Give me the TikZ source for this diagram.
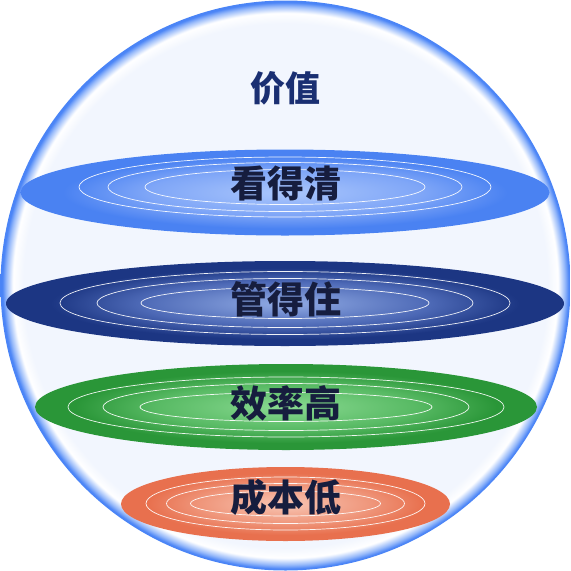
\documentclass[tikz,border=0pt]{standalone}
\usepackage{fontspec}
\newfontfamily\cjk{Noto Sans CJK SC}
\definecolor{bg}{HTML}{F2F6FE}
\definecolor{rim}{HTML}{4A84F6}
\definecolor{rimmid}{HTML}{96B9FA}
\definecolor{titlec}{HTML}{1A2F72}
\definecolor{labelc}{HTML}{161D3E}
\definecolor{eAedge}{HTML}{4A82F2}
\definecolor{eAmid}{HTML}{7FA6F7}
\definecolor{eActr}{HTML}{AAC6FC}
\definecolor{eBedge}{HTML}{1C3683}
\definecolor{eBmid}{HTML}{4D69B6}
\definecolor{eBctr}{HTML}{92ACE5}
\definecolor{eCedge}{HTML}{2A9638}
\definecolor{eCmid}{HTML}{58BA64}
\definecolor{eCctr}{HTML}{8ADA92}
\definecolor{eDedge}{HTML}{E8704E}
\definecolor{eDmid}{HTML}{EF967B}
\definecolor{eDctr}{HTML}{F8C6B4}
\pgfdeclareradialshading{sphereshade}{\pgfpoint{0bp}{0bp}}{%
  color(0bp)=(bg); color(23.0bp)=(bg); color(23.9bp)=(white);
  color(24.5bp)=(rimmid); color(24.85bp)=(rim); color(50bp)=(rim)}
\pgfdeclareradialshading{discA}{\pgfpoint{0bp}{0bp}}{%
  color(0bp)=(eActr); color(13bp)=(eAmid); color(21bp)=(eAedge); color(50bp)=(eAedge)}
\pgfdeclareradialshading{discB}{\pgfpoint{0bp}{0bp}}{%
  color(0bp)=(eBctr); color(13bp)=(eBmid); color(21bp)=(eBedge); color(50bp)=(eBedge)}
\pgfdeclareradialshading{discC}{\pgfpoint{0bp}{0bp}}{%
  color(0bp)=(eCctr); color(13bp)=(eCmid); color(21bp)=(eCedge); color(50bp)=(eCedge)}
\pgfdeclareradialshading{discD}{\pgfpoint{0bp}{0bp}}{%
  color(0bp)=(eDctr); color(13bp)=(eDmid); color(21bp)=(eDedge); color(50bp)=(eDedge)}
\tikzset{
  ringline/.style={draw=white, line width=0.7pt, opacity=0.92},
  disclabel/.style={text=labelc, font=\cjk\bfseries\fontsize{37}{37}\selectfont, inner sep=0pt},
  titlelabel/.style={text=titlec, font=\cjk\bfseries\fontsize{35}{35}\selectfont, inner sep=0pt}
}
\begin{document}
\begin{tikzpicture}[x=1pt,y=-1pt]
\useasboundingbox (0,0) rectangle (571,571);
% sphere
\shade[shading=sphereshade] (285.5,285.5) circle (285);
\node[titlelabel] (title) at (285.5,88.5) {价值};
% disc 1
\shade[shading=discA] (285,192.5) ellipse (264.5 and 43);
\draw[ringline] (285,187) ellipse (206 and 30);
\draw[ringline] (285,187) ellipse (177 and 24.5);
\draw[ringline] (285,187) ellipse (140 and 17.5);
\node[disclabel] (see) at (285.5,183.5) {看得清};
% disc 2
\shade[shading=discB] (285,303.5) ellipse (279 and 42.5);
\draw[ringline] (285,303) ellipse (225 and 31.5);
\draw[ringline] (285,303) ellipse (188 and 24.5);
\draw[ringline] (285,303) ellipse (144 and 15.5);
\node[disclabel] (manage) at (285.5,299) {管得住};
% disc 3
\shade[shading=discC] (286,407) ellipse (251 and 43);
\draw[ringline] (286,407) ellipse (218 and 30);
\draw[ringline] (286,407) ellipse (183 and 23.5);
\draw[ringline] (286,407) ellipse (146 and 14.5);
\node[disclabel] (eff) at (285.5,403.5) {效率高};
% disc 4
\shade[shading=discD] (285.5,504) ellipse (164.5 and 37);
\draw[ringline] (285.5,503.5) ellipse (139.5 and 26.5);
\draw[ringline] (285.5,503.5) ellipse (119 and 20);
\draw[ringline] (285.5,503.5) ellipse (95 and 12.5);
\node[disclabel] (cost) at (285.5,497) {成本低};
\end{tikzpicture}
\end{document}
